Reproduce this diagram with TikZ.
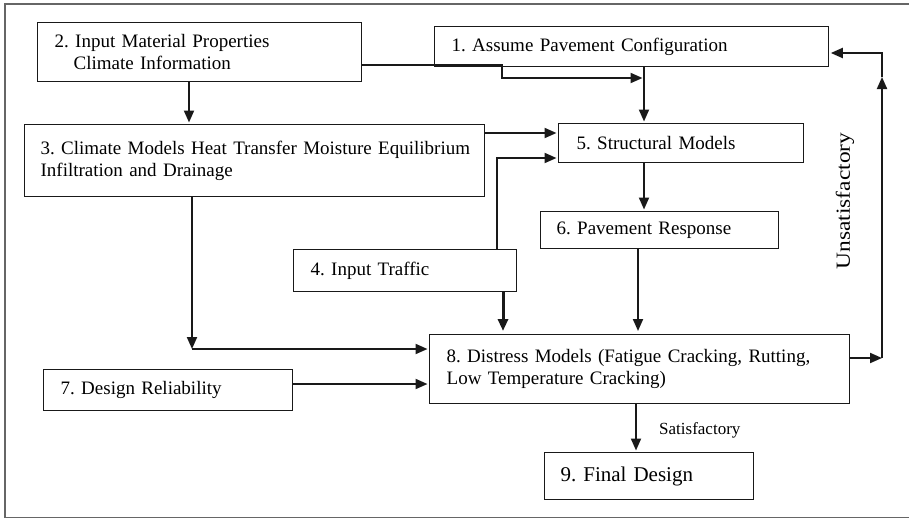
\documentclass[tikz,border=0pt]{standalone}
\usepackage{fontspec}
\setmainfont{Liberation Serif}
\usetikzlibrary{arrows.meta}
\frenchspacing
\begin{document}
\begin{tikzpicture}[x=1pt,y=-1pt,
  box/.style={draw=black!90, line width=1.3pt, anchor=north west, align=left,
              inner ysep=0pt, font=\fontsize{19}{21.5}\selectfont},
  conn/.style={draw=black!90, line width=2pt},
  arr/.style={conn, -{Triangle[length=12pt,width=10pt]}, shorten >=1.5pt},
  heavy/.style={arr, line width=3pt},
  frame/.style={draw=black!60, line width=1.2pt},
  lbl/.style={inner sep=0pt}]
\useasboundingbox (0,0) rectangle (909,519);
% outer frame
\draw[frame] (909,4) -- (5,4) -- (5,517.5) -- (909,517.5);

% process boxes
\node[box, minimum height=40pt, text width=360pt, inner xsep=17pt] (b1) at (434,26)
  {\mbox{1. Assume Pavement Configuration}};
\node[box, minimum height=59pt, text width=290pt, inner xsep=17pt] (b2) at (37,22)
  {\mbox{2. Input Material Properties}\\\hspace*{19pt}\mbox{Climate Information}};
\node[box, minimum height=72pt, text width=428pt, inner xsep=16pt] (b3) at (24,124)
  {\mbox{3. Climate Models Heat Transfer Moisture Equilibrium}\\\mbox{Infiltration and Drainage}};
\node[box, minimum height=39pt, text width=209pt, inner xsep=18pt] (b5) at (558,123)
  {\mbox{5. Structural Models}};
\node[box, minimum height=37pt, text width=206pt, inner xsep=16pt] (b6) at (540,211)
  {\mbox{6. Pavement Response}};
\node[box, minimum height=42pt, text width=189pt, inner xsep=17pt] (b4) at (293,249)
  {\mbox{4. Input Traffic}};
\node[box, minimum height=69pt, text width=386pt, inner xsep=17pt] (b8) at (429,334)
  {\mbox{8. Distress Models (Fatigue Cracking, Rutting,}\\\mbox{Low Temperature Cracking)}};
\node[box, minimum height=41pt, text width=215pt, inner xsep=17pt] (b7) at (43,369)
  {\mbox{7. Design Reliability}};
\node[box, minimum height=47pt, text width=177pt, inner xsep=16pt,
      font=\fontsize{21}{24}\selectfont] (b9) at (544,452)
  {\mbox{9. Final Design}};

% junction points on the connectors
\coordinate (j1) at (644,78);
\coordinate (j3) at (192,349);
\coordinate (r1) at (882,358);
\coordinate (r2) at (882,77);
\coordinate (r3) at (882,53);

% connectors
\draw[arr] (189,0 |- b2.south) -- (189,0 |- b3.north);
\draw[arr] (b2.east |- 0,65) -- (502,65) -- (502,78) -- (j1);
\draw[arr] (644,0 |- b1.south) -- (644,0 |- b5.north);
\draw[arr] (b3.east |- 0,133) -- (b5.west |- 0,133);
\draw[arr] (497,0 |- b4.north) -- (497,158) -- (b5.west |- 0,158);
\draw[arr] (644,0 |- b5.south) -- (644,0 |- b6.north);
\draw[arr, shorten >=3pt] (638,0 |- b6.south) -- (638,0 |- b8.north);
\draw[heavy, shorten >=3pt] (503,0 |- b4.south) -- (503,0 |- b8.north);
\draw[arr, shorten >=0pt] (192,0 |- b3.south) -- (j3);
\draw[arr] (j3) -- (b8.west |- j3);
\draw[arr] (b7.east |- 0,384) -- (b8.west |- 0,384);
\draw[arr, shorten >=0pt] (b8.east |- r1) -- (r1);
\draw[arr, shorten >=0pt] (r1) -- (r2);
\draw[arr] (r2) -- (r3) -- (b1.east |- r3);
\draw[arr] (636,0 |- b8.south) -- (636,0 |- b9.north);

% outcome labels
\node[lbl, anchor=west, font=\fontsize{17}{20}\selectfont] (sat) at (659,430) {Satisfactory};
\node[lbl, rotate=90, font=\fontsize{20}{24}\selectfont] (unsat) at (845,201)
  {\scalebox{1.17}[1]{Unsatisfactory}};
\end{tikzpicture}
\end{document}
